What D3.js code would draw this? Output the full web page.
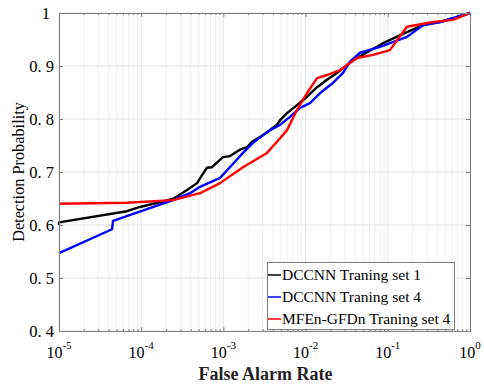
<!DOCTYPE html>
<html><head><meta charset="utf-8">
<script src="https://cdn.jsdelivr.net/npm/d3@7"></script>
<style>body{margin:0;background:#fff}svg{display:block}</style>
</head><body>
<script>
const seriesNames = ["DCCNN Traning set 1", "DCCNN Traning set 4", "MFEn-GFDn Traning set 4"];
const seriesColors = ["#000000", "#0000ff", "#ff0000"];
const fprSet1 = [1e-5,1e-5,6.71e-5,9.66e-5,2.44e-4,3.61e-4,4.78e-4,5.50e-4,6.31e-4,7.26e-4,9.89e-4,1.20e-3,1.59e-3,1.94e-3,2.23e-3,2.79e-3,3.39e-3,4.49e-3,4.89e-3,5.94e-3,7.85e-3,0.0104,0.0138,0.0182,0.0241,0.0319,0.0378,0.0875,0.171,0.268,0.432,0.695,1];
const pdSet1  = [0.600,0.605,0.626,0.634,0.649,0.666,0.679,0.694,0.708,0.709,0.728,0.730,0.742,0.747,0.757,0.766,0.775,0.789,0.798,0.811,0.826,0.842,0.860,0.874,0.887,0.902,0.911,0.943,0.964,0.977,0.983,0.992,1.0];
const fprSet4 = [1e-5,4.42e-5,4.54e-5,2.44e-4,3.93e-4,5.19e-4,9.10e-4,1.20e-3,1.73e-3,2.29e-3,3.69e-3,4.89e-3,6.46e-3,8.55e-3,0.0113,0.0150,0.0215,0.0285,0.0347,0.0459,0.0804,0.171,0.268,0.432,1];
const pdSet4  = [0.547,0.592,0.608,0.647,0.660,0.672,0.689,0.709,0.736,0.755,0.779,0.789,0.804,0.821,0.830,0.849,0.868,0.887,0.908,0.925,0.936,0.955,0.977,0.983,1.0];
const fprMfen = [1e-5,6.71e-5,2.44e-4,5.19e-4,9.10e-4,1.73e-3,3.39e-3,4.49e-3,5.94e-3,7.85e-3,0.0104,0.0138,0.0182,0.0262,0.0422,0.0661,0.106,0.171,0.355,0.621,1];
const pdMfen  = [0.640,0.642,0.647,0.660,0.679,0.709,0.736,0.757,0.779,0.817,0.849,0.877,0.883,0.892,0.915,0.921,0.930,0.974,0.983,0.987,1.0];
const xTickValues = [1e-5,1e-4,1e-3,1e-2,1e-1,1];
const xTickExponents = ["-5","-4","-3","-2","-1","0"];
const yTickValues = [0.4,0.5,0.6,0.7,0.8,0.9,1];
const xTitle = "False Alarm Rate";
const yTitle = "Detection Probability";

const W = 484, H = 389;
const m = {l:59, r:14, t:13, b:58};
const svg = d3.select("body").append("svg").attr("width", W).attr("height", H);
const x = d3.scaleLog().domain([1e-5, 1]).range([m.l, W - m.r]);
const y = d3.scaleLinear().domain([0.4, 1]).range([H - m.b, m.t]);
const x0 = m.l, x1 = W - m.r, y0 = H - m.b, y1 = m.t;

const minorX = [];
for (let e = -5; e < 0; e++) for (let k = 2; k <= 9; k++) minorX.push(k * Math.pow(10, e));

const g = svg.append("g");
g.selectAll(".mgx").data(minorX).enter().append("line")
  .attr("x1", d => x(d)).attr("x2", d => x(d)).attr("y1", y0).attr("y2", y1)
  .attr("stroke", "#f1f1f1").attr("stroke-width", 1);
g.selectAll(".gx").data(xTickValues).enter().append("line")
  .attr("x1", d => x(d)).attr("x2", d => x(d)).attr("y1", y0).attr("y2", y1)
  .attr("stroke", "#e3e3e3").attr("stroke-width", 1);
g.selectAll(".gy").data(yTickValues).enter().append("line")
  .attr("x1", x0).attr("x2", x1).attr("y1", d => y(d)).attr("y2", d => y(d))
  .attr("stroke", "#e3e3e3").attr("stroke-width", 1);

const line = d3.line().x(d => x(d[0])).y(d => y(d[1]));
const data = [
  d3.zip(fprSet1, pdSet1),
  d3.zip(fprSet4, pdSet4),
  d3.zip(fprMfen, pdMfen)
];
data.forEach((d, i) => {
  g.append("path").datum(d).attr("d", line).attr("fill", "none")
   .attr("stroke", seriesColors[i]).attr("stroke-width", 2.4).attr("stroke-linejoin", "round");
});

const axCol = "#7f7f7f";
const xAxisB = d3.axisBottom(x).tickValues(xTickValues).tickSize(-4).tickFormat("");
const xAxisT = d3.axisTop(x).tickValues(xTickValues).tickSize(-4).tickFormat("");
const yAxisL = d3.axisLeft(y).tickValues(yTickValues).tickSize(-4).tickFormat("");
const yAxisR = d3.axisRight(y).tickValues(yTickValues).tickSize(-4).tickFormat("");
const xMinB = d3.axisBottom(x).tickValues(minorX).tickSize(-2).tickFormat("");
const xMinT = d3.axisTop(x).tickValues(minorX).tickSize(-2).tickFormat("");
function style(sel){ sel.selectAll("path").attr("stroke", axCol).attr("stroke-width",1); sel.selectAll("line").attr("stroke", axCol); }
svg.append("g").attr("transform", `translate(0,${y0})`).call(xAxisB).call(style);
svg.append("g").attr("transform", `translate(0,${y1})`).call(xAxisT).call(style);
svg.append("g").attr("transform", `translate(0,${y0})`).call(xMinB).call(style).select("path").remove();
svg.append("g").attr("transform", `translate(0,${y1})`).call(xMinT).call(style).select("path").remove();
svg.append("g").attr("transform", `translate(${x0},0)`).call(yAxisL).call(style);
svg.append("g").attr("transform", `translate(${x1},0)`).call(yAxisR).call(style);

const font = "'Liberation Serif', 'Times New Roman', serif";
svg.selectAll(".ylab").data(yTickValues).enter().append("text")
  .attr("x", d => d === 1 ? x0 - 9 : x0 - 5).attr("y", d => y(d) + 6)
  .attr("text-anchor", "end").attr("font-family", font).attr("font-size", 16.5).attr("fill", "#000")
  .text(d => d === 1 ? "1" : d3.format(".1f")(d).replace(".", ". "));
const xl = svg.selectAll(".xlab").data(xTickValues).enter().append("text")
  .attr("x", d => x(d)).attr("y", y0 + 26.5)
  .attr("text-anchor", "middle").attr("font-family", font).attr("font-size", 16).attr("fill", "#000");
xl.append("tspan").text("10");
xl.append("tspan").attr("dy", -8.5).attr("font-size", 11).text((d, i) => xTickExponents[i]);

svg.append("text").attr("x", (x0 + x1) / 2 + 1).attr("y", 380).attr("text-anchor", "middle")
  .attr("font-family", font).attr("font-weight", "bold").attr("font-size", 18).attr("fill", "#222").text(xTitle);
svg.append("text").attr("transform", `translate(24,${(y0 + y1) / 2}) rotate(-90)`).attr("text-anchor", "middle")
  .attr("font-family", font).attr("font-size", 16.3).text(yTitle);

const lg = svg.append("g");
lg.append("rect").attr("x", 267.5).attr("y", 262.5).attr("width", 187).attr("height", 67)
  .attr("fill", "#fff").attr("stroke", axCol).attr("stroke-width", 1);
seriesNames.forEach((name, i) => {
  const cy = 275 + i * 22;
  lg.append("line").attr("x1", 268).attr("x2", 281).attr("y1", cy).attr("y2", cy)
    .attr("stroke", seriesColors[i]).attr("stroke-width", 1.5);
  lg.append("text").attr("x", 282).attr("y", cy + 4.5).attr("font-family", font).attr("font-size", 15.5)
    .text(name);
});
</script>
</body></html>
